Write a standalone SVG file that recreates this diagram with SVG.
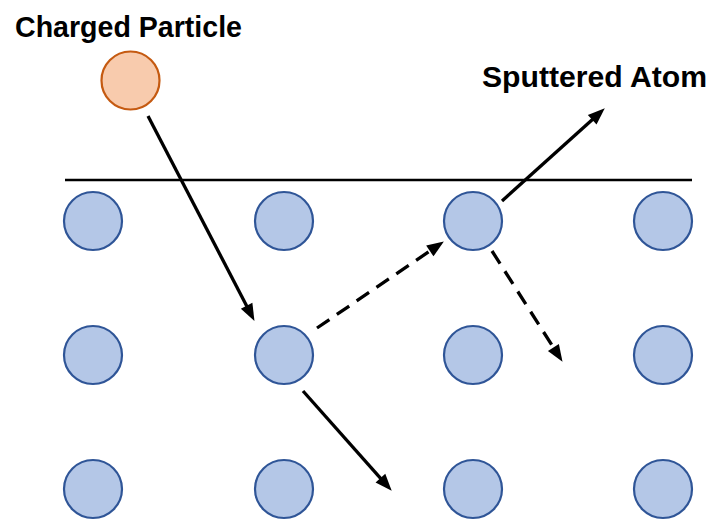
<svg xmlns="http://www.w3.org/2000/svg" width="712" height="521" viewBox="0 0 712 521">
<style>
.atom{fill:#b4c7e7;stroke:#2f5597;stroke-width:2.2}
.particle{fill:#f8cbad;stroke:#c55a11;stroke-width:2.2}
.lbl{font-family:"Liberation Sans",Arial,sans-serif;font-weight:bold;font-size:29px;fill:#000}
.arr{stroke:#000;stroke-width:3.3;fill:none;marker-end:url(#ah)}
.dash{stroke-dasharray:15 9}
</style>
<defs>
<marker id="ah" markerUnits="userSpaceOnUse" markerWidth="17" markerHeight="13" refX="3" refY="6.5" orient="auto" overflow="visible">
<path d="M0,0 L17,6.5 L0,13 z" fill="#000"/>
</marker>
</defs>
<rect width="712" height="521" fill="#fff"/>
<line id="surface" x1="65" y1="180" x2="692" y2="180" stroke="#000" stroke-width="2.5"/>
<g id="atoms">
<g id="a11"><circle class="atom" cx="93" cy="221" r="29"/></g>
<g id="a12"><circle class="atom" cx="284" cy="221" r="29"/></g>
<g id="a13"><circle class="atom" cx="473" cy="221" r="29"/></g>
<g id="a14"><circle class="atom" cx="663" cy="221" r="29"/></g>
<g id="a21"><circle class="atom" cx="93" cy="355" r="29"/></g>
<g id="a22"><circle class="atom" cx="284" cy="355" r="29"/></g>
<g id="a23"><circle class="atom" cx="473" cy="355" r="29"/></g>
<g id="a24"><circle class="atom" cx="663" cy="355" r="29"/></g>
<g id="a31"><circle class="atom" cx="93" cy="489" r="29"/></g>
<g id="a32"><circle class="atom" cx="284" cy="489" r="29"/></g>
<g id="a33"><circle class="atom" cx="473" cy="489" r="29"/></g>
<g id="a34"><circle class="atom" cx="663" cy="489" r="29"/></g>
</g>
<g id="charged-particle">
<circle class="particle" cx="130.5" cy="80.5" r="29"/>
<text class="lbl" x="15" y="37" textLength="227" lengthAdjust="spacingAndGlyphs">Charged Particle</text>
</g>
<g id="sputtered-label">
<text class="lbl" x="482" y="87" textLength="225" lengthAdjust="spacingAndGlyphs">Sputtered Atom</text>
</g>
<g id="connectors">
<line class="arr" x1="148" y1="116" x2="248" y2="308.5"/>
<line class="arr" x1="303" y1="391" x2="382.4" y2="480.3"/>
<line class="arr dash" x1="317" y1="328" x2="432.3" y2="249.3"/>
<line class="arr" x1="502" y1="201" x2="594.4" y2="117.7"/>
<line class="arr dash" x1="492" y1="251" x2="555" y2="350"/>
</g>
</svg>
